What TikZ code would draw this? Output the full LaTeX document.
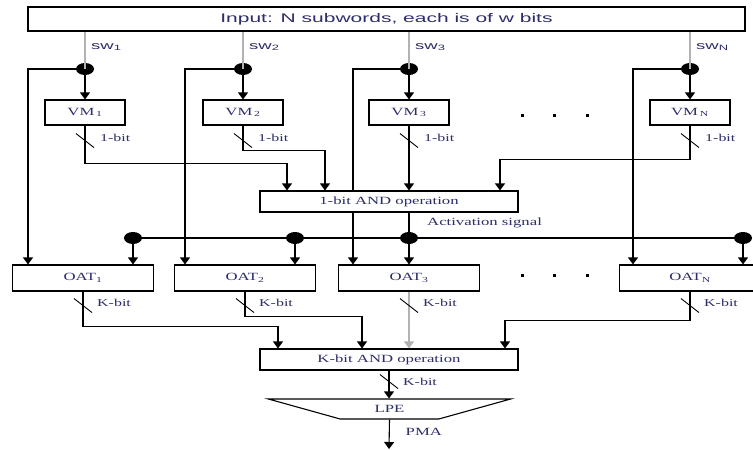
\documentclass[tikz,border=0pt]{standalone}
\usepackage{fontspec}
\setmainfont{Liberation Serif}
\newfontfamily\boxfont[FakeStretch=1.52]{Liberation Serif}
\newfontfamily\headfont[FakeStretch=1.68]{Liberation Sans}
\usetikzlibrary{arrows.meta,shapes.geometric,backgrounds}
\definecolor{labelblue}{RGB}{45,45,105}

\begin{document}
\begin{tikzpicture}[x=1pt,y=-1pt,
  blk/.style={draw,fill=white,line width=1.1pt,inner sep=0pt,text=labelblue,
              font=\boxfont\fontsize{11}{13}\selectfont},
  tap/.style={ellipse,fill=black,minimum width=18pt,minimum height=12pt,inner sep=0pt},
  flow/.style={-{Triangle[width=10pt,length=7pt]},line width=1.1pt},
  wire/.style={line width=1.1pt},
  feed/.style={line width=1.1pt,draw=gray!60},
  slash/.style={line width=0.9pt},
  tag/.style={text=labelblue,inner sep=0pt,font=\boxfont\fontsize{10.5}{12}\selectfont},
  swtag/.style={text=labelblue,inner sep=0pt,font=\headfont\fontsize{11}{12}\selectfont}
]
\useasboundingbox (0,0) rectangle (753,450);

% input word and taps
\node[blk,minimum width=717pt,minimum height=24pt,
      font=\headfont\fontsize{12.5}{14}\selectfont] (input) at (386.5,19)
  {Input: N subwords, each is of w bits};
\node[tap] (tap1) at (85,69) {};
\node[tap] (tap2) at (243,69) {};
\node[tap] (tap3) at (409,69) {};
\node[tap] (tapN) at (690,69) {};
\coordinate (turn1) at (28,69);
\coordinate (turn2) at (185,69);
\coordinate (turn3) at (353,69);
\coordinate (turnN) at (633,69);
\node[swtag,anchor=west] (sw1) at ([shift={(6,-22)}]tap1.center) {sw\textsubscript{1}};
\node[swtag,anchor=west] (sw2) at ([shift={(6,-22)}]tap2.center) {sw\textsubscript{2}};
\node[swtag,anchor=west] (sw3) at ([shift={(6,-22)}]tap3.center) {sw\textsubscript{3}};
\node[swtag,anchor=west] (swN) at ([shift={(6,-22)}]tapN.center) {sw\textsubscript{N}};

% validation modules
\node[blk,minimum width=80pt,minimum height=25pt] (vm1) at (85,112.5) {VM\,\textsubscript{1}};
\node[blk,minimum width=80pt,minimum height=25pt] (vm2) at (243,112.5) {VM\,\textsubscript{2}};
\node[blk,minimum width=80pt,minimum height=25pt] (vm3) at (409,112.5) {VM\,\textsubscript{3}};
\node[blk,minimum width=80pt,minimum height=25pt] (vmN) at (690,112.5) {VM\,\textsubscript{N}};
\node[blk,minimum width=258pt,minimum height=21pt] (and1) at (389,201.5) {1-bit AND operation};

% activation bus
\node[tap] (act1) at (133,238) {};
\node[tap] (act2) at (295,238) {};
\node[tap] (act3) at (409,238) {};
\node[tap] (actN) at (743,238) {};
\node[tag,anchor=west,font=\boxfont\fontsize{11}{13}\selectfont] (actsig)
  at ([shift={(18,-15)}]act3.center) {Activation signal};

% output address tables
\node[blk,minimum width=141pt,minimum height=26pt] (oat1) at (83,278) {OAT\textsubscript{1}};
\node[blk,minimum width=141pt,minimum height=26pt] (oat2) at (245,278) {OAT\textsubscript{2}};
\node[blk,minimum width=141pt,minimum height=26pt] (oat3) at (409,278) {OAT\textsubscript{3}};
\node[blk,minimum width=141pt,minimum height=26pt] (oatN) at (690,278) {OAT\textsubscript{N}};
\node[blk,minimum width=258pt,minimum height=21pt] (kand) at (389,359.5) {K-bit AND operation};
\node[blk,trapezium,shape border rotate=180,trapezium angle=18.4,
      trapezium stretches=true,minimum width=244pt,minimum height=20pt] (lpe) at (389.5,409) {LPE};
\coordinate (pmaend) at (389,449);
\node[tag,anchor=west,font=\boxfont\fontsize{11}{13}\selectfont] (pma)
  at ([shift={(16,12)}]lpe.south) {PMA};

% gaps
\foreach \x in {522,554,587} {
  \fill (\x-1.5,113.5) rectangle ++(3,3);
  \fill (\x-1.5,273.5) rectangle ++(3,3);
}

% subword feeds
\foreach \c in {1,2,3,N} {
  \draw[feed] (input.south -| tap\c) -- (tap\c.center);
  \draw[flow] (tap\c.center) -- (vm\c.north);
}
\begin{scope}[on background layer]
\foreach \c in {1,2,3,N}
  \draw[flow] (tap\c.center) -- (turn\c) -- (turn\c |- oat\c.north);
\end{scope}

% VM results into 1-bit AND
\draw[flow] (vm1.south) -- ++(0,38) -| ([xshift=-102pt]and1.north);
\draw[flow] (vm2.south) -- ++(0,25) -| ([xshift=-64pt]and1.north);
\draw[flow] (vm3.south) -- (vm3.south |- and1.north);
\draw[flow] (vmN.south) -- ++(0,34) -| ([xshift=111pt]and1.north);
\foreach \n in {vm1,vm2,vm3,vmN} {
  \draw[slash] ([shift={(-9,8)}]\n.south) -- ++(18,14);
  \node[tag,anchor=west] (\n-w) at ([shift={(15,12)}]\n.south) {1-bit};
}

% activation signal to the tables
\draw[wire] (act3 |- and1.south) -- (act3.center);
\draw[wire] (act1.center) -- (actN.center);
\foreach \c in {1,2,3,N}
  \draw[flow] (act\c.center) -- (act\c |- oat\c.north);

% table outputs into K-bit AND
\draw[flow] (oat1.south) -- ++(0,35) -| ([xshift=-111pt]kand.north);
\draw[flow] (oat2.south) -- ++(0,25) -| ([xshift=-27pt]kand.north);
\draw[flow,draw=gray!60] (oat3.south) -- (oat3.south |- kand.north);
\draw[flow] (oatN.south) -- ++(0,29) -| ([xshift=116pt]kand.north);
\foreach \n in {oat1,oat2,oat3,oatN} {
  \draw[slash] ([shift={(-9,7)}]\n.south) -- ++(18,14);
  \node[tag,anchor=west] (\n-w) at ([shift={(14,11)}]\n.south) {K-bit};
}

% priority encoder
\draw[flow] (kand.south) -- (kand.south |- lpe.north);
\draw[slash] ([shift={(-9,4)}]kand.south) -- ++(18,14);
\node[tag,anchor=west] (kand-w) at ([shift={(14,11)}]kand.south) {K-bit};
\draw[flow] (lpe.south) -- (pmaend);
\end{tikzpicture}
\end{document}
